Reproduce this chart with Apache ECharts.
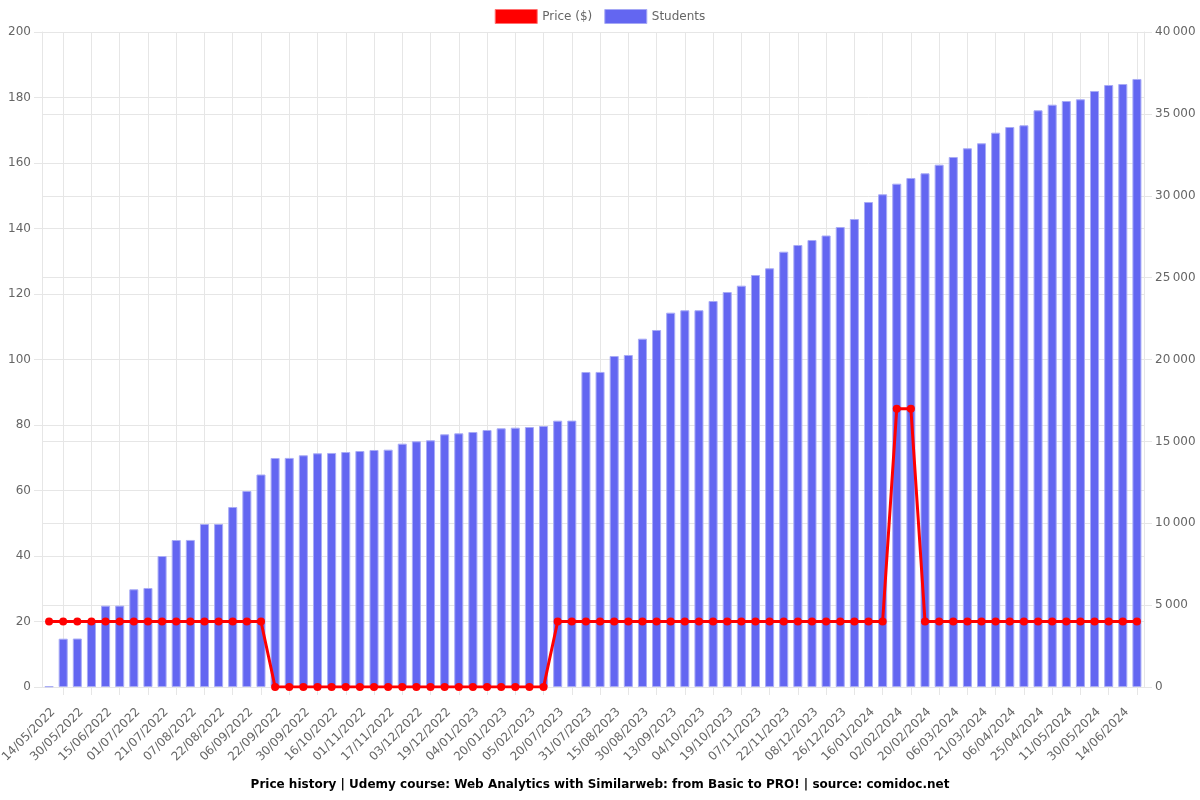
<!DOCTYPE html>
<html>
<head>
<meta charset="utf-8">
<script src="https://cdn.jsdelivr.net/npm/echarts@6/dist/echarts.min.js"></script>
<style>
html,body{margin:0;padding:0;background:#fff;}
#chart{width:1200px;height:800px;}
</style>
</head>
<body>
<div id="chart"></div>
<script>
const dates = [
 '14/05/2022','22/05/2022','30/05/2022','07/06/2022','15/06/2022','23/06/2022','01/07/2022','10/07/2022',
 '21/07/2022','29/07/2022','07/08/2022','15/08/2022','22/08/2022','30/08/2022','06/09/2022','14/09/2022',
 '22/09/2022','26/09/2022','30/09/2022','08/10/2022','16/10/2022','24/10/2022','01/11/2022','09/11/2022',
 '17/11/2022','25/11/2022','03/12/2022','11/12/2022','19/12/2022','27/12/2022','04/01/2023','12/01/2023',
 '20/01/2023','28/01/2023','05/02/2023','13/02/2023','20/07/2023','25/07/2023','31/07/2023','08/08/2023',
 '15/08/2023','22/08/2023','30/08/2023','06/09/2023','13/09/2023','26/09/2023','04/10/2023','11/10/2023',
 '19/10/2023','27/10/2023','07/11/2023','15/11/2023','22/11/2023','30/11/2023','08/12/2023','17/12/2023',
 '26/12/2023','05/01/2024','16/01/2024','24/01/2024','02/02/2024','11/02/2024','20/02/2024','28/02/2024',
 '06/03/2024','13/03/2024','21/03/2024','29/03/2024','06/04/2024','15/04/2024','25/04/2024','03/05/2024',
 '11/05/2024','21/05/2024','30/05/2024','07/06/2024','14/06/2024','22/06/2024'
];

const price = [
 20,20,20,20,20,20,20,20,20,20,20,20,20,20,20,20,
 0,0,0,0,0,0,0,0,0,0,0,0,0,0,0,0,0,0,0,0,
 20,20,20,20,20,20,20,20,20,20,20,20,20,20,20,20,20,20,20,20,20,20,20,20,
 85,85,
 20,20,20,20,20,20,20,20,20,20,20,20,20,20,20,20
];

const students = [
 40,2950,2960,4010,4965,4970,5966,6046,
 8000,8977,8980,9954,9958,10993,11970,12977,
 13985,13990,14150,14272,14292,14351,14413,14474,
 14494,14860,15003,15064,15430,15491,15573,15695,
 15797,15837,15878,15939,16265,16268,19237,19240,
 20214,20275,21271,21802,22859,23004,23008,23573,
 24123,24508,25161,25569,26584,26993,27298,27573,
 28092,28581,29619,30089,30737,31085,31371,31897,
 32367,32898,33204,33851,34199,34303,35219,35561,
 35787,35891,36398,36764,36825,37131
];

const titleText = 'Price history | Udemy course: Web Analytics with Similarweb: from Basic to PRO! | source: comidoc.net';

// helper axis for vertical grid lines (half-category resolution)
const halfSteps = [];
for (let j = 0; j < dates.length * 2 + 1; j++) halfSteps.push(String(j));

const gridColor = '#e6e6e6';
const font = 'DejaVu Sans';

const chart = echarts.init(document.getElementById('chart'));
chart.setOption({
  animation: false,
  textStyle: { fontFamily: font },
  title: {
    text: titleText,
    left: 'center',
    bottom: 4,
    textStyle: { fontFamily: font, fontSize: 12, fontWeight: 'bold', color: '#000' }
  },
  legend: {
    top: 4,
    left: 'center',
    itemWidth: 42,
    itemHeight: 14,
    itemGap: 12,
    textStyle: { fontFamily: font, fontSize: 12, color: '#666' },
    data: [
      { name: 'Price ($)', icon: 'rect', itemStyle: { color: '#ff0000', borderColor: '#ff7070', borderWidth: 1 } },
      { name: 'Students', icon: 'rect', itemStyle: { color: '#6366f1', borderColor: '#a5a8f5', borderWidth: 1 } }
    ]
  },
  grid: { left: 42, right: 56, top: 32, bottom: 113, containLabel: false, outerBoundsMode: 'none' },
  xAxis: [
    {
      type: 'category',
      data: dates,
      boundaryGap: true,
      axisLine: { show: true, lineStyle: { color: gridColor } },
      axisTick: { show: false },
      splitLine: { show: false },
      axisLabel: {
        interval: 1,
        rotate: 45,
        margin: 19,
        verticalAlign: 'top',
        fontFamily: font,
        fontSize: 12,
        color: '#666'
      }
    },
    {
      type: 'category',
      data: halfSteps,
      boundaryGap: false,
      position: 'bottom',
      axisLine: { show: false },
      axisLabel: { show: false },
      axisTick: { show: true, length: 8, interval: (i) => i % 4 === 3, lineStyle: { color: gridColor } },
      splitLine: { show: true, interval: (i) => i % 4 === 3, lineStyle: { color: gridColor } }
    }
  ],
  yAxis: [
    {
      type: 'value',
      min: 0, max: 200, interval: 20,
      position: 'left',
      axisLine: { show: true, lineStyle: { color: gridColor } },
      axisTick: { show: true, length: 8, lineStyle: { color: gridColor } },
      splitLine: { show: true, lineStyle: { color: gridColor } },
      axisLabel: { margin: 11, fontFamily: font, fontSize: 12, color: '#666' }
    },
    {
      type: 'value',
      min: 0, max: 40000, interval: 5000,
      position: 'right',
      axisLine: { show: true, lineStyle: { color: gridColor } },
      axisTick: { show: true, length: 8, lineStyle: { color: gridColor } },
      splitLine: { show: true, lineStyle: { color: gridColor } },
      axisLabel: {
        margin: 11, fontFamily: font, fontSize: 12, color: '#666',
        formatter: (v) => String(v).replace(/\B(?=(\d{3})+(?!\d))/g, '\u202f')
      }
    }
  ],
  series: [
    {
      name: 'Price ($)',
      type: 'line',
      xAxisIndex: 0,
      yAxisIndex: 0,
      data: price,
      z: 5,
      symbol: 'circle',
      symbolSize: 8,
      itemStyle: { color: '#ff0000' },
      lineStyle: { color: '#ff0000', width: 3 }
    },
    {
      name: 'Students',
      type: 'bar',
      xAxisIndex: 0,
      yAxisIndex: 1,
      data: students,
      barWidth: '64%',
      z: 2,
      itemStyle: { color: '#6366f1', borderColor: '#a9acf6', borderWidth: 1 }
    }
  ]
});
</script>
</body>
</html>
